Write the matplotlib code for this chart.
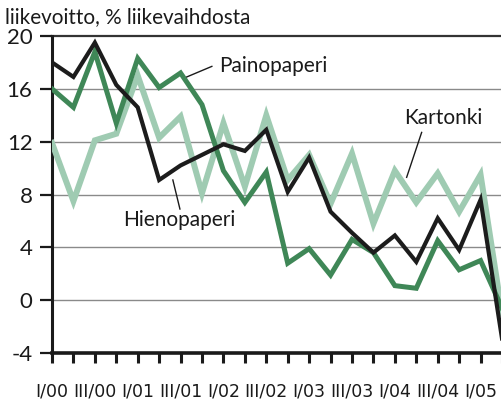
import matplotlib
matplotlib.use("Agg")
import matplotlib.pyplot as plt
from matplotlib import font_manager

names = {f.name for f in font_manager.fontManager.ttflist}
narrow = "Liberation Sans Narrow" if "Liberation Sans Narrow" in names else "DejaVu Sans Condensed"
main_font = "Lato"

quarters = ["I/00", "II/00", "III/00", "IV/00", "I/01", "II/01", "III/01", "IV/01",
            "I/02", "II/02", "III/02", "IV/02", "I/03", "II/03", "III/03", "IV/03",
            "I/04", "II/04", "III/04", "IV/04", "I/05", "II/05"]
hienopaperi = [18.0, 16.9, 19.5, 16.3, 14.6, 9.1, 10.2, 11.0, 11.8, 11.3, 12.9, 8.2,
               10.8, 6.7, 5.1, 3.6, 4.9, 2.9, 6.2, 3.8, 7.6, -2.9]
painopaperi = [16.0, 14.6, 18.8, 13.4, 18.3, 16.1, 17.2, 14.8, 9.8, 7.4, 9.7, 2.8,
               3.9, 1.9, 4.6, 3.6, 1.1, 0.9, 4.5, 2.3, 3.0, -0.6]
kartonki = [11.9, 7.5, 12.1, 12.6, 17.0, 12.3, 13.9, 8.1, 13.4, 8.6, 14.0, 9.1,
            11.0, 7.3, 11.1, 5.8, 9.8, 7.4, 9.6, 6.7, 9.5, -1.0]
yticks = [-4, 0, 4, 8, 12, 16, 20]
title = "liikevoitto, % liikevaihdosta"

c_black = "#1c1c1c"
c_green = "#3f8757"
c_light = "#9fcbb2"

fig = plt.figure(figsize=(5.02, 4.00), dpi=100)
ax = fig.add_axes([52/502, 47/400, 450/502, 317/400])
x = list(range(len(quarters)))

ax.plot(x, kartonki, color=c_light, lw=4.3, solid_joinstyle="miter", zorder=3)
ax.plot(x, painopaperi, color=c_green, lw=3.6, solid_joinstyle="miter", zorder=4)
ax.plot(x, hienopaperi, color=c_black, lw=3.0, solid_joinstyle="miter", zorder=5)

ax.set_xlim(0, len(quarters) - 1)
ax.set_ylim(-4, 20)

for v in yticks[1:-1]:
    ax.axhline(v, color="#8a8a8a", lw=1.0, zorder=1)
ax.axhline(20, color="#333333", lw=1.6, zorder=1, clip_on=False)

for s in ["top", "right"]:
    ax.spines[s].set_visible(False)
ax.spines["left"].set_linewidth(2.2)
ax.spines["bottom"].set_linewidth(2.6)
ax.spines["left"].set_color("#1a1a1a")
ax.spines["bottom"].set_color("#1a1a1a")

ax.set_yticks(yticks)
ax.set_yticklabels([str(v) for v in yticks], fontfamily=main_font, fontsize=16, color="#1a1a1a")
ax.tick_params(axis="y", direction="out", length=9, width=1.6, pad=5, color="#1a1a1a")
ax.set_xticks(x)
ax.set_xticklabels([q if i % 2 == 0 else "" for i, q in enumerate(quarters)],
                   fontfamily=narrow, fontsize=12.5, color="#1a1a1a")
ax.tick_params(axis="x", direction="out", length=7, width=2.2, pad=14, color="#1a1a1a")

fig.text(5/502, 1 - 17/400, title, fontfamily=main_font, fontsize=14.9, color="#1a1a1a",
         va="center", ha="left")

label_kw = dict(fontfamily=main_font, fontsize=15, color="#1a1a1a", va="center", ha="left")
ax.text(7.8, 17.75, "Painopaperi", **label_kw)
ax.plot([6.29, 7.46], [16.9, 17.7], color="#1a1a1a", lw=1.0, zorder=6)
ax.text(16.45, 13.8, "Kartonki", **label_kw)
ax.plot([17.25, 16.55], [12.7, 9.3], color="#1a1a1a", lw=1.0, zorder=6)
ax.text(3.3, 6.1, "Hienopaperi", **label_kw)
ax.plot([5.64, 5.97], [9.1, 6.9], color="#1a1a1a", lw=1.0, zorder=6)

fig.savefig("out.png", dpi=100)
